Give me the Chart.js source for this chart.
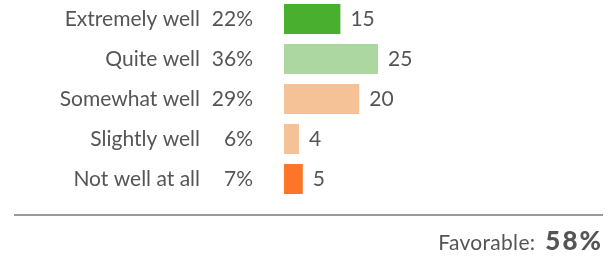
<!DOCTYPE html>
<html>
<head>
<meta charset="utf-8">
<script src="https://cdn.jsdelivr.net/npm/chart.js@4"></script>
<style>
  html, body { margin: 0; padding: 0; background: #ffffff; }
  #wrap { position: relative; width: 614px; height: 256px; overflow: hidden; }
  #box { position: absolute; left: 0; top: -1px; width: 614px; height: 257px; }
  #rule { position: absolute; left: 14px; top: 214px; width: 589px; height: 2px; background: #999999; }
  #fav { position: absolute; right: 11px; top: 225px; font-family: Lato, sans-serif; color: #555555; white-space: nowrap; line-height: 30px; }
  #fav .lbl { font-size: 21px; letter-spacing: 0.3px; }
  #fav .num { font-size: 26px; font-weight: 900; margin-left: 10px; letter-spacing: 2px; }
</style>
</head>
<body>
<div id="wrap">
  <div id="box"><canvas id="c"></canvas></div>
  <div id="rule"></div>
  <div id="fav"><span class="lbl">Favorable:</span><span class="num">58%</span></div>
</div>
<script>
const categories = ["Extremely well", "Quite well", "Somewhat well", "Slightly well", "Not well at all"];
const counts = [15, 25, 20, 4, 5];
const percents = ["22%", "36%", "29%", "6%", "7%"];
const barColors = ["#48b02e", "#acd7a0", "#f5c197", "#f5c197", "#fd7527"];

const FONT = "Lato, sans-serif";
const TEXT = "#555555";

const labelsPlugin = {
  id: "sideLabels",
  afterDatasetsDraw(chart) {
    const ctx = chart.ctx;
    const meta = chart.getDatasetMeta(0);
    ctx.save();
    ctx.font = "21px " + FONT;
    ctx.fillStyle = TEXT;
    ctx.textBaseline = "middle";
    meta.data.forEach((bar, i) => {
      ctx.textAlign = "left";
      ctx.fillText(String(counts[i]), bar.x + 10, bar.y);
      ctx.textAlign = "right";
      ctx.fillText(percents[i], 253, bar.y);
    });
    ctx.restore();
  }
};

new Chart(document.getElementById("c"), {
  type: "bar",
  data: {
    labels: categories,
    datasets: [{
      data: counts,
      backgroundColor: barColors,
      borderWidth: 0,
      barPercentage: 0.75,
      categoryPercentage: 1.0
    }]
  },
  options: {
    indexAxis: "y",
    responsive: true,
    maintainAspectRatio: false,
    animation: false,
    devicePixelRatio: 1,
    layout: { padding: { top: 0, right: 48, bottom: 57, left: 0 } },
    plugins: { legend: { display: false }, tooltip: { enabled: false } },
    scales: {
      x: { display: false, min: 0, max: 75 },
      y: {
        grid: { display: false, drawTicks: false },
        border: { display: false },
        ticks: { color: TEXT, font: { family: FONT, size: 21 }, padding: 84, autoSkip: false },
        afterFit(scale) {
          scale.width = 284;
          scale.paddingTop = 0;
          scale.paddingBottom = 0;
        }
      }
    }
  },
  plugins: [labelsPlugin]
});
</script>
</body>
</html>
